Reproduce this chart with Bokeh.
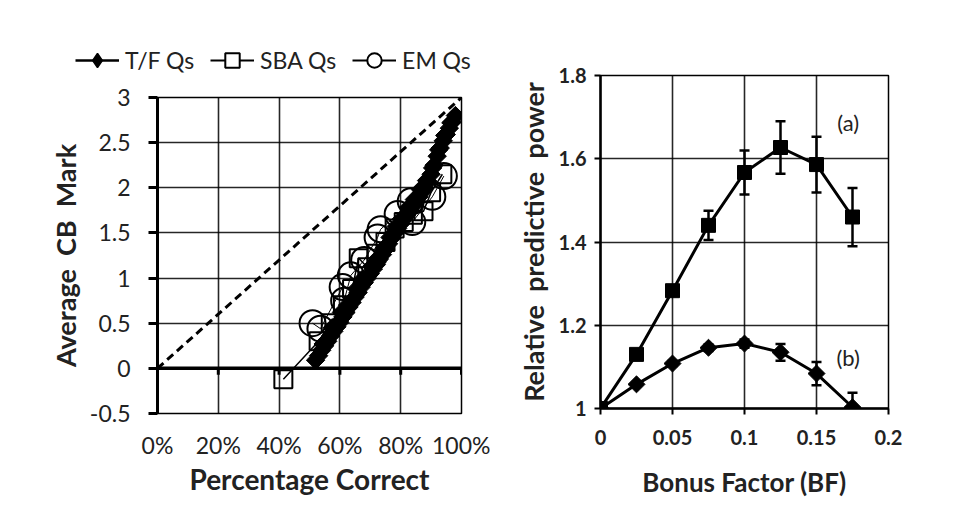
import math
from bokeh.plotting import figure
from bokeh.layouts import row, column
from bokeh.models import (Range1d, FixedTicker, LinearAxis, Legend, LegendItem,
                          Whisker, ColumnDataSource, TeeHead, Span)
from bokeh.embed import file_html
from bokeh.resources import INLINE
from bokeh.core.properties import value

FONT = "Lato"
ROT = math.pi / 4  # square turned 45 degrees = Excel-style diamond

# ---------------- Left chart data ----------------
left_x_ticks = [0, 0.2, 0.4, 0.6, 0.8, 1.0]
left_x_labels = ["0%", "20%", "40%", "60%", "80%", "100%"]
left_y_ticks = [-0.5, 0, 0.5, 1, 1.5, 2, 2.5, 3]
left_y_labels = ["-0.5", "0", "0.5", "1", "1.5", "2", "2.5", "3"]

ref_pct = [0.0, 1.0]
ref_mark = [0.0, 3.0]

tf_pct = [0.52, 0.53, 0.54, 0.55, 0.56, 0.57, 0.58, 0.59, 0.60, 0.61, 0.62, 0.63,
          0.64, 0.65, 0.66, 0.67, 0.68, 0.69, 0.70, 0.71, 0.72, 0.73, 0.74, 0.75,
          0.76, 0.77, 0.78, 0.79, 0.80, 0.81, 0.82, 0.83, 0.84, 0.85, 0.86, 0.87,
          0.88, 0.89, 0.90, 0.91, 0.92, 0.93, 0.94, 0.95, 0.96, 0.97, 0.98]
tf_mark = [0.09, 0.14, 0.20, 0.25, 0.30, 0.36, 0.41, 0.46, 0.51, 0.57, 0.62, 0.68,
           0.73, 0.79, 0.84, 0.90, 0.95, 1.00, 1.05, 1.10, 1.15, 1.21, 1.26, 1.32,
           1.38, 1.44, 1.50, 1.55, 1.60, 1.65, 1.70, 1.75, 1.80, 1.85, 1.90, 1.95,
           2.00, 2.07, 2.15, 2.25, 2.35, 2.44, 2.52, 2.59, 2.66, 2.73, 2.80]
tf2_pct = [0.545, 0.575, 0.605, 0.625, 0.655, 0.675, 0.705, 0.725, 0.745, 0.765,
           0.785, 0.805, 0.825, 0.845, 0.865, 0.885, 0.905, 0.925, 0.945, 0.965]
tf2_mark = [0.27, 0.45, 0.62, 0.70, 0.88, 0.99, 1.13, 1.22, 1.33, 1.45,
            1.57, 1.66, 1.78, 1.87, 1.98, 2.08, 2.22, 2.42, 2.58, 2.72]

sba_pct = [0.414, 0.53, 0.57, 0.61, 0.64, 0.662, 0.69, 0.72, 0.75, 0.78, 0.81, 0.84,
           0.875, 0.90, 0.937]
sba_mark = [-0.12, 0.30, 0.50, 0.70, 0.88, 1.22, 1.12, 1.27, 1.40, 1.55, 1.62, 1.70,
            1.74, 1.95, 2.15]

em_pct = [0.51, 0.536, 0.609, 0.614, 0.636, 0.68, 0.724, 0.734, 0.79, 0.833, 0.838,
          0.904, 0.942]
em_mark = [0.50, 0.44, 0.90, 0.75, 1.03, 1.20, 1.45, 1.54, 1.71, 1.85, 1.62, 1.90, 2.13]

legend_labels = ["T/F Qs", "SBA Qs", "EM Qs"]

# ---------------- Right chart data ----------------
bf = [0, 0.025, 0.05, 0.075, 0.1, 0.125, 0.15, 0.175]
power_a = [1.0, 1.13, 1.283, 1.44, 1.567, 1.627, 1.586, 1.46]
err_a = [0.0, 0.008, 0.012, 0.035, 0.053, 0.063, 0.067, 0.07]
power_b = [1.0, 1.058, 1.108, 1.146, 1.156, 1.135, 1.084, 1.003]
err_b = [0.0, 0.004, 0.006, 0.008, 0.010, 0.020, 0.028, 0.035]

right_x_ticks = [0, 0.05, 0.1, 0.15, 0.2]
right_x_labels = ["0", "0.05", "0.1", "0.15", "0.2"]
right_y_ticks = [1.0, 1.2, 1.4, 1.6, 1.8]
right_y_labels = ["1", "1.2", "1.4", "1.6", "1.8"]

label_text = ["(a)", "(b)"]
label_x = [0.172, 0.172]
label_y = [1.686, 1.1225]

BLACK = "#000000"
TXT = "#222222"
NB = "\u00a0"

# ================= Legend strip (above left chart) =================
leg_fig = figure(width=490, height=80, output_backend="svg", toolbar_location=None,
                 x_range=Range1d(0, 1), y_range=Range1d(0, 1),
                 min_border=0, min_border_left=0, min_border_right=0,
                 min_border_top=0, min_border_bottom=0,
                 x_axis_location=None, y_axis_location=None)
leg_fig.outline_line_color = None
leg_fig.xgrid.visible = False
leg_fig.ygrid.visible = False

# off-screen sample points: only their legend glyphs are visible
def off():
    return ColumnDataSource(dict(x=[-5, -4], y=[-5, -5]))

lg_tf_l = leg_fig.line(x="x", y="y", source=off(), line_color=BLACK, line_width=2.5)
lg_tf_m = leg_fig.scatter(x="x", y="y", source=off(), marker="diamond", size=18,
                          fill_color=BLACK, line_color=BLACK, line_width=1.5)
lg_sba_l = leg_fig.line(x="x", y="y", source=off(), line_color=BLACK, line_width=2)
lg_sba_m = leg_fig.scatter(x="x", y="y", source=off(), marker="square", size=13,
                           fill_color="white", line_color=BLACK, line_width=2)
lg_em_l = leg_fig.line(x="x", y="y", source=off(), line_color=BLACK, line_width=2)
lg_em_m = leg_fig.scatter(x="x", y="y", source=off(), marker="circle", size=13,
                          fill_color="white", line_color=BLACK, line_width=2)

legend = Legend(items=[LegendItem(label=legend_labels[0], renderers=[lg_tf_l, lg_tf_m]),
                       LegendItem(label=legend_labels[1], renderers=[lg_sba_l, lg_sba_m]),
                       LegendItem(label=legend_labels[2], renderers=[lg_em_l, lg_em_m])],
                orientation="horizontal",
                label_text_font=FONT, label_text_font_size="23px",
                label_text_color=TXT, glyph_width=44, glyph_height=36,
                spacing=16, padding=0, margin=0, label_standoff=6,
                border_line_alpha=0, background_fill_alpha=0)
legend.location = (75, 2)
leg_fig.add_layout(legend)

# ================= Left figure =================
p1 = figure(width=490, height=427, output_backend="svg", toolbar_location=None,
            x_range=Range1d(0, 1), y_range=Range1d(-0.5, 3),
            min_border_left=157, min_border_right=29, min_border_top=17,
            min_border_bottom=94, x_axis_location=None, y_axis_location=None)
p1.outline_line_color = BLACK
p1.outline_line_width = 1.5

yax = LinearAxis(ticker=FixedTicker(ticks=left_y_ticks),
                 major_label_overrides={t: l for t, l in zip(left_y_ticks, left_y_labels)})
yax.axis_label = "Average" + NB + NB + "CB" + NB + NB + "Mark"
yax.axis_label_text_font = FONT
yax.axis_label_text_font_style = "bold"
yax.axis_label_text_font_size = "27px"
yax.axis_label_text_color = TXT
yax.axis_label_standoff = 5
yax.major_label_text_font = FONT
yax.major_label_text_font_size = "23px"
yax.major_label_text_color = TXT
yax.major_label_standoff = 18
yax.axis_line_width = 3
yax.major_tick_line_width = 3
yax.major_tick_out = 9
yax.major_tick_in = 0
yax.minor_tick_line_color = None
p1.add_layout(yax, "left")

xax = LinearAxis(ticker=FixedTicker(ticks=left_x_ticks),
                 major_label_overrides={t: l for t, l in zip(left_x_ticks, left_x_labels)})
xax.axis_label = "Percentage Correct"
xax.axis_label_text_font = FONT
xax.axis_label_text_font_style = "bold"
xax.axis_label_text_font_size = "28px"
xax.axis_label_text_color = TXT
xax.axis_label_standoff = 0
xax.major_label_text_font = FONT
xax.major_label_text_font_size = "23px"
xax.major_label_text_color = TXT
xax.major_label_standoff = 11
xax.axis_line_color = None
xax.major_tick_line_color = None
xax.minor_tick_line_color = None
p1.add_layout(xax, "below")

zero_line = Span(location=0, dimension="width", line_color=BLACK, line_width=3.5)
p1.add_layout(zero_line)
tick_src = ColumnDataSource(dict(x=left_x_ticks, y0=[0] * len(left_x_ticks),
                                 y1=[-0.07] * len(left_x_ticks)))
p1.segment(x0="x", y0="y0", x1="x", y1="y1", source=tick_src,
           line_color=BLACK, line_width=3)

p1.xgrid.ticker = FixedTicker(ticks=left_x_ticks)
p1.ygrid.ticker = FixedTicker(ticks=left_y_ticks)
for g in (p1.xgrid, p1.ygrid):
    g.grid_line_color = BLACK
    g.grid_line_width = 1.6
    g.grid_line_alpha = 0.85

p1.line(ref_pct, ref_mark, line_color=BLACK, line_width=3, line_dash="8 5")

p1.line(tf_pct, tf_mark, line_color=BLACK, line_width=3)
p1.scatter(tf_pct, tf_mark, marker="square", angle=ROT, size=13,
           fill_color=BLACK, line_color=BLACK)
p1.scatter(tf2_pct, tf2_mark, marker="square", angle=ROT, size=13,
           fill_color=BLACK, line_color=BLACK)
p1.line(sba_pct, sba_mark, line_color=BLACK, line_width=1.5)
p1.scatter(sba_pct, sba_mark, marker="square", size=18,
           fill_color=None, line_color=BLACK, line_width=2)
p1.line(em_pct, em_mark, line_color=BLACK, line_width=1)
p1.scatter(em_pct, em_mark, marker="circle", size=26,
           fill_color=None, line_color=BLACK, line_width=2)

# ================= Right figure =================
p2 = figure(width=471, height=507, output_backend="svg", toolbar_location=None,
            x_range=Range1d(0, 0.2), y_range=Range1d(1.0, 1.8),
            min_border_left=110, min_border_right=73, min_border_top=75,
            min_border_bottom=99, x_axis_location=None, y_axis_location=None)
p2.outline_line_color = BLACK
p2.outline_line_width = 1.5

ry = LinearAxis(ticker=FixedTicker(ticks=right_y_ticks),
                major_label_overrides={t: l for t, l in zip(right_y_ticks, right_y_labels)})
ry.axis_label = "Relative" + NB + NB + "predictive" + NB + NB + "power"
ry.axis_label_text_font = FONT
ry.axis_label_text_font_style = "bold"
ry.axis_label_text_font_size = "27px"
ry.axis_label_text_color = TXT
ry.axis_label_standoff = 6
ry.major_label_text_font = FONT
ry.major_label_text_font_style = "bold"
ry.major_label_text_font_size = "20px"
ry.major_label_text_color = TXT
ry.major_label_standoff = 8
ry.axis_line_width = 2.5
ry.major_tick_line_width = 2
ry.major_tick_out = 6
ry.major_tick_in = 0
ry.minor_tick_line_color = None
p2.add_layout(ry, "left")

rx = LinearAxis(ticker=FixedTicker(ticks=right_x_ticks),
                major_label_overrides={t: l for t, l in zip(right_x_ticks, right_x_labels)})
rx.axis_label = "Bonus Factor (BF)"
rx.axis_label_text_font = FONT
rx.axis_label_text_font_style = "bold"
rx.axis_label_text_font_size = "26px"
rx.axis_label_text_color = TXT
rx.axis_label_standoff = 18
rx.major_label_text_font = FONT
rx.major_label_text_font_style = "bold"
rx.major_label_text_font_size = "20px"
rx.major_label_text_color = TXT
rx.major_label_standoff = 15
rx.axis_line_width = 2.5
rx.major_tick_line_width = 2
rx.major_tick_out = 6
rx.major_tick_in = 0
rx.minor_tick_line_color = None
p2.add_layout(rx, "below")

p2.xgrid.ticker = FixedTicker(ticks=right_x_ticks)
p2.ygrid.ticker = FixedTicker(ticks=right_y_ticks)
for g in (p2.xgrid, p2.ygrid):
    g.grid_line_color = BLACK
    g.grid_line_width = 1.6
    g.grid_line_alpha = 0.85

src_a = ColumnDataSource(dict(x=bf, y=power_a,
                              upper=[v + e for v, e in zip(power_a, err_a)],
                              lower=[v - e for v, e in zip(power_a, err_a)]))
src_b = ColumnDataSource(dict(x=bf, y=power_b,
                              upper=[v + e for v, e in zip(power_b, err_b)],
                              lower=[v - e for v, e in zip(power_b, err_b)]))

for src in (src_a, src_b):
    w = Whisker(source=src, base="x", upper="upper", lower="lower",
                line_color=BLACK, line_width=2.5,
                upper_head=TeeHead(size=10, line_color=BLACK, line_width=2.5),
                lower_head=TeeHead(size=10, line_color=BLACK, line_width=2.5))
    p2.add_layout(w)

p2.line("x", "y", source=src_a, line_color=BLACK, line_width=3)
p2.scatter("x", "y", source=src_a, marker="square", size=14,
           fill_color=BLACK, line_color=BLACK)
p2.line("x", "y", source=src_b, line_color=BLACK, line_width=3)
p2.scatter("x", "y", source=src_b, marker="square", angle=ROT, size=12,
           fill_color=BLACK, line_color=BLACK)

p2.text(x=label_x, y=label_y, text=label_text, text_font=value(FONT),
        text_font_size="22px", text_color=TXT, text_align="center",
        text_baseline="middle")

layout = row(column(row(leg_fig), row(p1)), column(p2))
open("out.html", "w").write(file_html(layout, INLINE))
